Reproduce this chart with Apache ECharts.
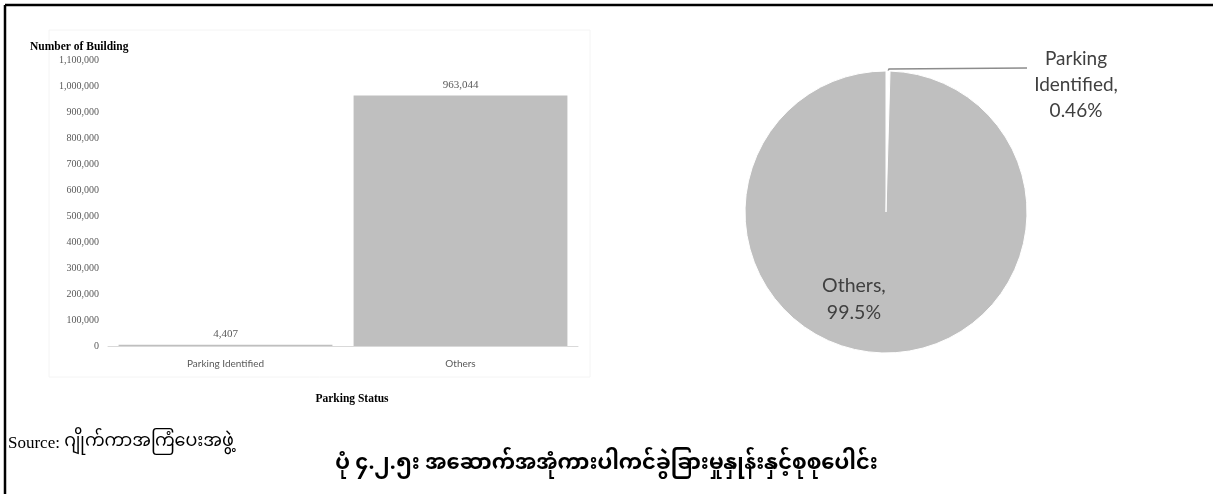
<!DOCTYPE html>
<html>
<head>
<meta charset="utf-8">
<script src="https://cdn.jsdelivr.net/npm/echarts@6/dist/echarts.min.js"></script>
<style>
html,body{margin:0;padding:0;background:#fff;}
#chart{width:1213px;height:494px;}
</style>
</head>
<body>
<div id="chart"></div>
<script>
const categories = ['Parking Identified', 'Others'];
const buildingCounts = [4407, 963044];
const pieNames = ['Parking Identified', 'Others'];
const pieLabels = ['Parking\nIdentified,\n0.46%', 'Others,\n99.5%'];
const yTicks = {min: 0, max: 1100000, interval: 100000};
const yAxisTitle = 'Number of Building';
const xAxisTitle = 'Parking Status';
const sourcePrefix = 'Source: ';
const sourceText = 'ဂျိုက်ကာအကြံပေးအဖွဲ့';
const captionText = 'ပုံ ၄.၂.၅း အဆောက်အအုံကားပါကင်ခွဲခြားမှုနှုန်းနှင့်စုစုပေါင်း';

const serif = '"Liberation Serif", "Times New Roman", serif';
const sans = 'Lato, "Open Sans", sans-serif';
const myanmar = '"Noto Sans Myanmar", "Padauk", "Myanmar Text", sans-serif';

const chart = echarts.init(document.getElementById('chart'), null, {renderer: 'canvas'});
const fmt = v => v.toLocaleString('en-US');

chart.setOption({
  animation: false,
  backgroundColor: '#fff',
  title: [
    {text: yAxisTitle, left: 25, top: 36,
     textStyle: {fontFamily: serif, fontSize: 11.5, fontWeight: 'bold', color: '#000'}},
    {text: '{a|' + sourcePrefix + '}{b|' + sourceText + '}', left: 3, top: 430,
     textStyle: {fontWeight: 'normal', rich: {
       a: {fontFamily: serif, fontSize: 17, fontWeight: 'normal', color: '#000'},
       b: {fontFamily: myanmar, fontSize: 17.5, fontWeight: 'normal', color: '#000'}
     }}},
    {text: captionText, left: 'center', top: 451,
     textStyle: {fontFamily: myanmar, fontSize: 21, fontWeight: 'bold', color: '#000'}}
  ],
  graphic: [
    {type: 'line', shape: {x1: 5, y1: 5, x2: 1213, y2: 5}, style: {stroke: '#000', lineWidth: 2.5}},
    {type: 'line', shape: {x1: 5, y1: 5, x2: 5, y2: 494}, style: {stroke: '#000', lineWidth: 2.5}},
    {type: 'rect', shape: {x: 49, y: 30, width: 541, height: 347},
     style: {fill: 'none', stroke: '#f4f4f4', lineWidth: 1}, z: -1}
  ],
  grid: {left: 108, right: 635, top: 60, bottom: 148, containLabel: false},
  xAxis: {
    type: 'category',
    data: categories,
    name: xAxisTitle,
    nameLocation: 'middle',
    nameGap: 47,
    nameTextStyle: {fontFamily: serif, fontSize: 11.5, fontWeight: 'bold', color: '#000', padding: [0, 0, 0, 18]},
    axisLine: {lineStyle: {color: '#d9d9d9', width: 1}},
    axisTick: {show: false},
    axisLabel: {fontFamily: sans, fontSize: 10, color: '#595959', margin: 13}
  },
  yAxis: {
    type: 'value',
    min: yTicks.min, max: yTicks.max, interval: yTicks.interval,
    axisLine: {show: false},
    axisTick: {show: false},
    splitLine: {show: false},
    axisLabel: {fontFamily: serif, fontSize: 10, color: '#595959', margin: 9, formatter: fmt}
  },
  series: [
    {
      type: 'bar',
      data: buildingCounts,
      barCategoryGap: '9%',
      itemStyle: {color: '#bfbfbf'},
      label: {show: true, position: 'top', distance: 5, fontFamily: serif, fontSize: 11,
              color: '#595959', formatter: p => fmt(p.value)}
    },
    {
      type: 'pie',
      center: [886, 212],
      radius: 141,
      startAngle: 90,
      clockwise: true,
      data: pieNames.map((n, i) => ({
        name: n, value: buildingCounts[i],
        itemStyle: i === 0 ? {color: '#ffffff', borderColor: '#ffffff', borderWidth: 1}
                           : {color: '#bfbfbf', borderColor: '#ffffff', borderWidth: 1},
        label: i === 0
          ? {position: 'outside', formatter: pieLabels[i], fontFamily: sans, fontSize: 19,
             lineHeight: 26, color: '#404040', align: 'center'}
          : {position: 'inside', formatter: pieLabels[i], fontFamily: sans, fontSize: 19.5,
             lineHeight: 27, color: '#404040', align: 'center'},
        labelLine: i === 0 ? {show: true, length: 2, length2: 138, lineStyle: {color: '#8c8c8c', width: 1.5}} : {show: false}
      })),
      labelLayout: function (p) {
        if (p.dataIndex === 0) {
          const pts = p.labelLinePoints;
          const p0 = pts ? pts[0] : [888, 71];
          return {x: 1076, y: 85, align: 'center', verticalAlign: 'middle',
                  labelLinePoints: [p0, [p0[0] + 1, p0[1] - 2], [1027, p0[1] - 3]]};
        }
        return {dx: -31, dy: 14};
      }
    }
  ]
});
</script>
</body>
</html>
